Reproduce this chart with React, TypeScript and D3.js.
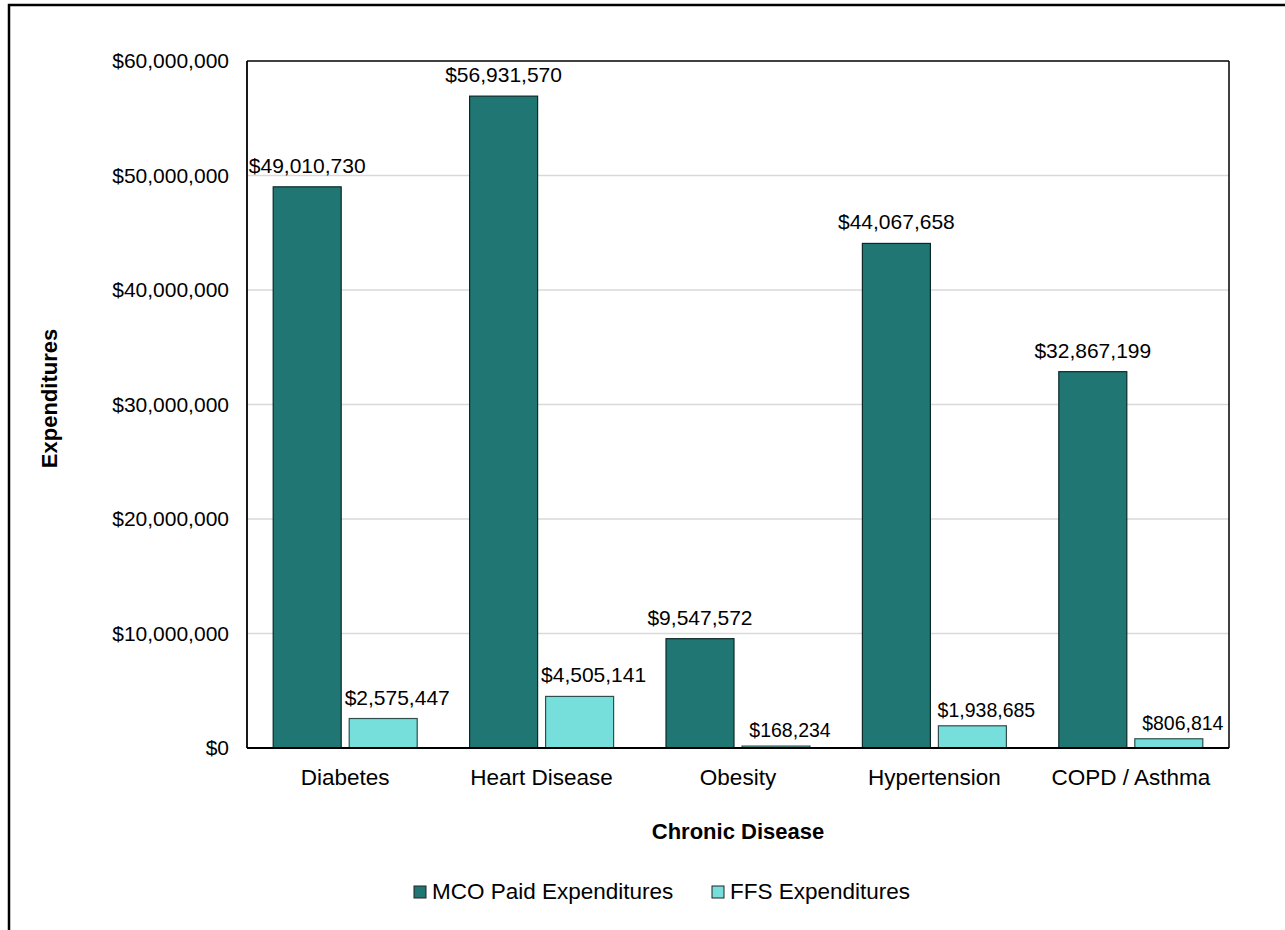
import React from "react";
import * as d3 from "d3";

const categories = ["Diabetes", "Heart Disease", "Obesity", "Hypertension", "COPD / Asthma"];
const mcoValues = [49010730, 56931570, 9547572, 44067658, 32867199];
const ffsValues = [2575447, 4505141, 168234, 1938685, 806814];
const seriesNames = ["MCO Paid Expenditures", "FFS Expenditures"];
const seriesColors = ["#1F7673", "#76DFDC"];
const yTicks = [0, 10000000, 20000000, 30000000, 40000000, 50000000, 60000000];

const W = 1285;
const H = 930;
const plot = { left: 247, top: 61, right: 1229, bottom: 748 };
const FONT = "'Liberation Sans', Arial, sans-serif";

export default function App() {
  const x = d3
    .scaleBand<string>()
    .domain(categories)
    .range([plot.left, plot.right])
    .paddingInner(0)
    .paddingOuter(0);
  const y = d3.scaleLinear().domain([0, 60000000]).range([plot.bottom, plot.top]);
  const fmt = (v: number) => "$" + d3.format(",")(v);
  const barW = 68;
  const gap = 8;
  const pairW = barW * 2 + gap;

  const series = [mcoValues, ffsValues];
  const legendX = [414, 712];
  const labelShift = [0, 14];

  return (
    <div style={{ position: "absolute", left: 0, top: 0 }}>
      <svg width={W} height={H} style={{ display: "block", background: "#fff" }}>
        {/* outer frame */}
        <rect x={9} y={5} width={W + 10} height={H + 10} fill="none" stroke="#000" strokeWidth={2.5} />
        {/* gridlines */}
        {yTicks.map((t) =>
          t > 0 && t < 60000000 ? (
            <line key={"g" + t} x1={plot.left} x2={plot.right} y1={y(t)} y2={y(t)} stroke="#d9d9d9" strokeWidth={1.3} />
          ) : null
        )}
        {/* bars */}
        {categories.map((c, i) => {
          const bx = (x(c) as number) + (x.bandwidth() - pairW) / 2;
          return (
            <g key={c}>
              {series.map((s, si) => {
                const v = s[i];
                const xx = bx + si * (barW + gap);
                const top = y(v);
                const small = v < 2000000;
                return (
                  <g key={si}>
                    <rect
                      x={xx}
                      y={top}
                      width={barW}
                      height={plot.bottom - top}
                      fill={seriesColors[si]}
                      stroke={si === 0 ? "#0a2a29" : "#2f4f4f"}
                      strokeWidth={1.2}
                    />
                    <text
                      x={xx + barW / 2 + labelShift[si]}
                      y={top - (small ? 9 : 14)}
                      textAnchor="middle"
                      fontFamily={FONT}
                      fontSize={small ? 19.5 : 21}
                      fill="#000"
                    >
                      {fmt(v)}
                    </text>
                  </g>
                );
              })}
            </g>
          );
        })}
        {/* plot frame */}
        <line x1={plot.left} x2={plot.right} y1={plot.top} y2={plot.top} stroke="#000" strokeWidth={1.5} />
        <line x1={plot.right} x2={plot.right} y1={plot.top} y2={plot.bottom} stroke="#000" strokeWidth={1.5} />
        <line x1={plot.left} x2={plot.left} y1={plot.top} y2={plot.bottom} stroke="#000" strokeWidth={1.8} />
        <line x1={plot.left} x2={plot.right} y1={plot.bottom} y2={plot.bottom} stroke="#000" strokeWidth={1.8} />
        {/* y ticks */}
        {yTicks.map((t) => (
          <text
            key={"y" + t}
            x={229}
            y={y(t)}
            dy="0.35em"
            textAnchor="end"
            fontFamily={FONT}
            fontSize={21}
            fill="#000"
          >
            {fmt(t)}
          </text>
        ))}
        {/* x ticks */}
        {categories.map((c) => (
          <text
            key={"x" + c}
            x={(x(c) as number) + x.bandwidth() / 2}
            y={785}
            textAnchor="middle"
            fontFamily={FONT}
            fontSize={22.5}
            fill="#000"
          >
            {c}
          </text>
        ))}
        {/* axis titles */}
        <text
          x={(plot.left + plot.right) / 2}
          y={839}
          textAnchor="middle"
          fontFamily={FONT}
          fontSize={22}
          fontWeight="bold"
          fill="#000"
        >
          Chronic Disease
        </text>
        <text
          transform={`translate(57, ${(plot.top + plot.bottom) / 2 - 6}) rotate(-90)`}
          textAnchor="middle"
          fontFamily={FONT}
          fontSize={22}
          fontWeight="bold"
          fill="#000"
        >
          Expenditures
        </text>
        {/* legend */}
        {seriesNames.map((n, i) => {
          const lx = legendX[i];
          return (
            <g key={n}>
              <rect x={lx} y={886} width={12} height={12} fill={seriesColors[i]} stroke="#222" strokeWidth={1} />
              <text x={lx + 18} y={899} fontFamily={FONT} fontSize={22.5} fill="#000">
                {n}
              </text>
            </g>
          );
        })}
      </svg>
    </div>
  );
}
